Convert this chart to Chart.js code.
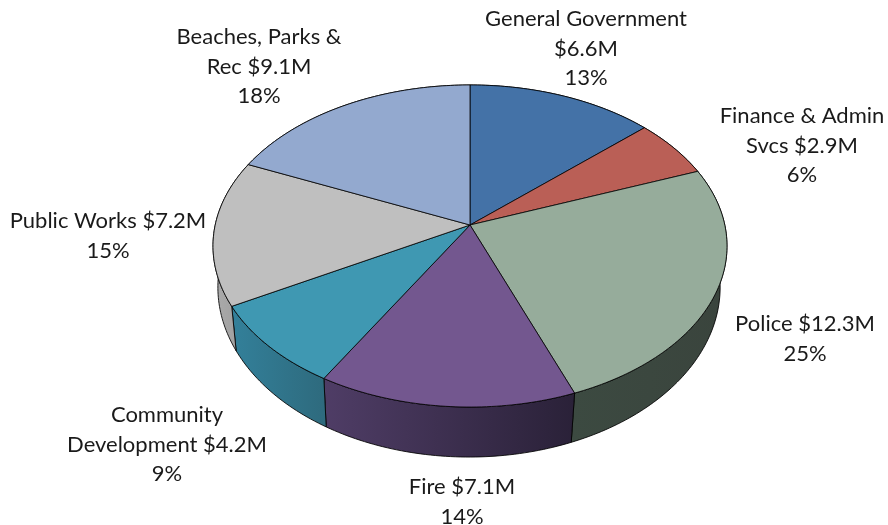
<!DOCTYPE html>
<html>
<head>
<meta charset="utf-8">
<style>
  html, body { margin: 0; padding: 0; background: #fff; }
  canvas { display: block; }
</style>
<script src="https://cdn.jsdelivr.net/npm/chart.js@4"></script>
</head>
<body>
<canvas id="budget" width="888" height="525"></canvas>
<script>
// General fund budget by department, in millions of dollars
const categories = ['General Government', 'Finance & Admin Svcs', 'Police', 'Fire',
                    'Community Development', 'Public Works', 'Beaches, Parks & Rec'];
const values = [6.6, 2.9, 12.3, 7.1, 4.2, 7.2, 9.1];
const percents = [13, 6, 25, 14, 9, 15, 18];

// Fill of the top face, and left/right shades of the side wall
const topColors = ['#4472A7', '#BA5F56', '#96AC9B', '#73578F', '#3F98B2', '#BFBFBF', '#93A9CF'];
const wallLeft = ['#2C4A6E', '#7A3E38', '#3C4A41', '#4F3D66', '#33809A', '#ABABAB', '#5F6E87'];
const wallRight = ['#2C4A6E', '#7A3E38', '#3A443D', '#2A2138', '#2E6A7D', '#9A9A9A', '#5F6E87'];

// Wrapped label lines; the last line of each is the percentage
const labelLines = [
  ['General Government', '$6.6M'],
  ['Finance & Admin', 'Svcs $2.9M'],
  ['Police $12.3M'],
  ['Fire $7.1M'],
  ['Community', 'Development $4.2M'],
  ['Public Works $7.2M'],
  ['Beaches, Parks &', 'Rec $9.1M']
];
// Label block centre x and first baseline y
const labelAnchors = [[586, 26], [802, 123], [805, 331], [462, 494], [167, 422], [108, 228], [259, 44]];
const LINE_HEIGHT = 29.5;

// Perspective planes of the disc: upper face and lower rim
const upperPlane = { cx: 470, cy: 225, rx: 254.8, ry: 158.3, k: 0.1304 };
const lowerPlane = { cx: 469, cy: 265, rx: 249, ry: 167, k: 0.1304 };

function project(plane, angle) {
  const u = Math.cos(angle), v = Math.sin(angle);
  const w = 1 - plane.k * v;
  return [plane.cx + plane.rx * u / w, plane.cy + plane.ry * v / w];
}

function arcPoints(plane, a0, a1) {
  const n = Math.max(2, Math.ceil((a1 - a0) / (Math.PI / 180)));
  const pts = [];
  for (let i = 0; i <= n; i++) pts.push(project(plane, a0 + (a1 - a0) * i / n));
  return pts;
}

function tracePoly(ctx, pts) {
  ctx.beginPath();
  pts.forEach((p, i) => i ? ctx.lineTo(p[0], p[1]) : ctx.moveTo(p[0], p[1]));
  ctx.closePath();
}

// Draws each arc element of the pie as a tilted, extruded wedge
const tiltedDisc = {
  id: 'tiltedDisc',
  beforeDatasetDraw(chart) {
    const ctx = chart.ctx;
    const arcs = chart.getDatasetMeta(0).data;
    ctx.save();
    ctx.lineJoin = 'round';

    arcs.forEach((arc, i) => {
      const upper = arcPoints(upperPlane, arc.startAngle, arc.endAngle);
      const lower = arcPoints(lowerPlane, arc.startAngle, arc.endAngle);
      const xs = upper.concat(lower).map(p => p[0]);
      const grad = ctx.createLinearGradient(Math.min(...xs), 0, Math.max(...xs), 0);
      grad.addColorStop(0, wallLeft[i]);
      grad.addColorStop(1, wallRight[i]);
      tracePoly(ctx, upper.concat(lower.slice().reverse()));
      ctx.fillStyle = grad;
      ctx.fill();
      ctx.strokeStyle = 'rgba(0,0,0,0.85)';
      ctx.lineWidth = 1;
      ctx.stroke();
    });

    arcs.forEach((arc, i) => {
      const upper = arcPoints(upperPlane, arc.startAngle, arc.endAngle);
      tracePoly(ctx, [[upperPlane.cx, upperPlane.cy]].concat(upper));
      ctx.fillStyle = topColors[i];
      ctx.fill();
      ctx.strokeStyle = 'rgba(0,0,0,0.8)';
      ctx.lineWidth = 1;
      ctx.stroke();
    });
    ctx.restore();
    return false;
  },
  afterDraw(chart) {
    const ctx = chart.ctx;
    ctx.save();
    ctx.font = '22px Lato, "Open Sans", sans-serif';
    ctx.fillStyle = '#1a1a1a';
    ctx.textAlign = 'center';
    ctx.textBaseline = 'alphabetic';
    labelLines.forEach((lines, i) => {
      const [x, y] = labelAnchors[i];
      lines.concat(percents[i] + '%').forEach((line, j) => {
        ctx.fillText(line, x, y + j * LINE_HEIGHT);
      });
    });
    ctx.restore();
  }
};

new Chart(document.getElementById('budget'), {
  type: 'pie',
  data: {
    labels: categories,
    datasets: [{ data: values, backgroundColor: topColors }]
  },
  options: {
    responsive: false,
    animation: false,
    plugins: { legend: { display: false }, tooltip: { enabled: false } }
  },
  plugins: [tiltedDisc]
});
</script>
</body>
</html>
